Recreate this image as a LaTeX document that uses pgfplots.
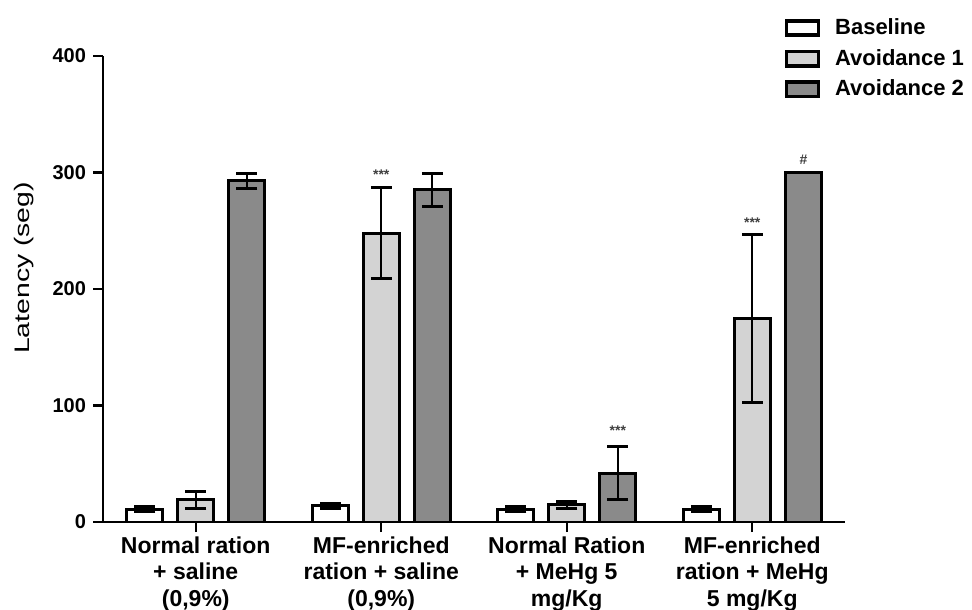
\documentclass[border=0pt]{standalone}
\usepackage{pgfplots}
\pgfplotsset{compat=1.18}
\usepackage{fontspec}
\setmainfont{Liberation Sans}
\definecolor{lgray}{RGB}{211,211,211}
\definecolor{dgray}{RGB}{138,138,138}
\pgfplotsset{/pgfplots/ybar legend/.style={/pgfplots/legend image code/.code={\draw[##1,line width=1.8pt] (0pt,-3.6pt) rectangle (16pt,3.6pt);}}}
\begin{document}
\begin{tikzpicture}
\path[use as bounding box] (-51.5pt,-43.5pt) rectangle (434.5pt,261pt);
\begin{axis}[
  scale only axis, width=371pt, height=233pt,
  xmin=-0.5, xmax=3.5, ymin=0, ymax=400,
  axis x line*=bottom, axis y line*=left,
  axis line style={line width=1.2pt},
  ybar=7.5pt, bar width=18pt,
  xtick={0,1,2,3},
  xticklabels={{Normal ration\\+ saline\\(0,9\%)},{MF-enriched\\ration + saline\\(0,9\%)},{Normal Ration\\+ MeHg 5\\mg/Kg},{MF-enriched\\ration + MeHg\\5 mg/Kg}},
  xticklabel style={align=center, yshift=1.2pt, font=\bfseries\fontsize{11.5}{13.2}\selectfont},
  ytick={0,100,200,300,400},
  yticklabel style={font=\bfseries\fontsize{10}{12}\selectfont},
  /pgf/number format/assume math mode=true,
  tick align=outside, major tick length=5pt,
  tick style={line width=1.2pt, black},
  ylabel={Latency (seg)},
  ylabel style={at={(axis description cs:-0.106,0.545)}, anchor=center, font=\fontsize{10.5}{12}\selectfont, xscale=1.35},
  legend style={at={(0.918,1.090)}, anchor=north west, draw=none, fill=none, font=\bfseries\fontsize{11}{13}\selectfont, row sep=1.9pt, inner sep=0pt, /tikz/every odd column/.append style={column sep=5.5pt}},
  legend cell align=left,
  every axis plot/.append style={draw=black, line width=1.5pt},
  error bars/y dir=both, error bars/y explicit,
  error bars/error bar style={line width=1.2pt, black},
  error bars/error mark options={rotate=90, mark size=5.25pt, line width=1.5pt, black},
]
\addplot[fill=white] coordinates {(0,11) +- (0,2) (1,14) +- (0,2) (2,11) +- (0,2) (3,11) +- (0,2)};
\addplot[fill=lgray] coordinates {(0,19) +- (0,7) (1,248) +- (0,39) (2,15) +- (0,3) (3,175) +- (0,72)};
\addplot[fill=dgray] coordinates {(0,293) +- (0,6.5) (1,285) +- (0,14.5) (2,42) +- (0,23) (3,300) +- (0,0)};
\legend{Baseline, Avoidance 1, Avoidance 2}
\node[font=\bfseries\fontsize{7}{8}\selectfont, text=black!75] at (axis cs:1,298) {***};
\node[font=\bfseries\fontsize{7}{8}\selectfont, text=black!75] at (axis cs:2.2757,78) {***};
\node[font=\bfseries\fontsize{7}{8}\selectfont, text=black!75] at (axis cs:3,257) {***};
\node[font=\bfseries\fontsize{7}{8}\selectfont, text=black!75] at (axis cs:3.2757,311) {\#};
\end{axis}
\end{tikzpicture}
\end{document}
